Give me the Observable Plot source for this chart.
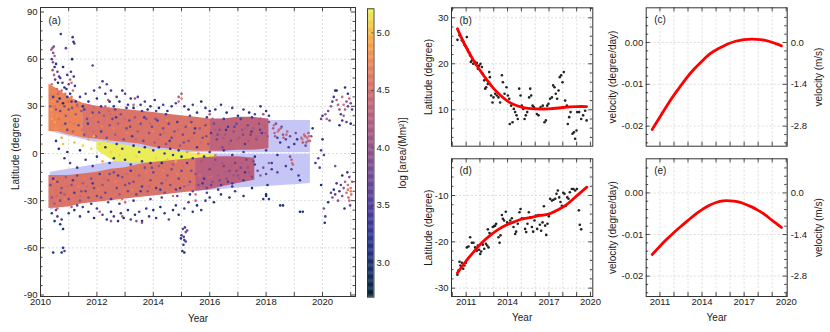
<!DOCTYPE html>
<html><head><meta charset="utf-8">
<script src="https://cdn.jsdelivr.net/npm/d3@7"></script>
<script src="https://cdn.jsdelivr.net/npm/@observablehq/plot@0.6"></script>
<style>
html,body{margin:0;padding:0;background:#fff;}
#chart{position:relative;width:830px;height:332px;overflow:hidden;}
#chart svg{position:absolute;left:0;top:0;}
</style></head><body><div id="chart"></div>
<script>
// ---------- colour map (log area) ----------
const colorDomain = [2.7, 2.951, 3.202, 3.453, 3.704, 3.955, 4.206, 4.457, 4.708, 4.959, 5.21];
const colorRange = ["#042333", "#15306a", "#2c3494", "#4a3c9c", "#6b4795", "#8e518b", "#b05c83", "#d16b72", "#ec8258", "#f9ac44", "#e8f65a"];

// ---------- panel (a): butterfly diagram ----------
const bandNorth = [[2010.35,14,36],[2011,11,33],[2012,7,28.5],[2013,4,25.5],[2014,1.5,23.8],[2015,0.4,22.5],[2016,0.4,21.6],[2017,0.4,21.2],[2018,0.4,21],[2019,0.4,21],[2019.57,0.4,21]];
const bandSouth = [[2010.35,-36,-12],[2011,-33,-10],[2012,-30,-7],[2013,-28,-4],[2014,-26.3,-2],[2015,-25,-0.6],[2016,-23.5,-0.4],[2017,-22,-0.4],[2018,-21,-0.4],[2019,-19.8,-0.4],[2019.57,-19,-0.4]];
const northCore = [[2010.3,14,44,4.72],[2010.6,14,41,4.72],[2011.0,12,36,4.72],[2011.5,10,32,4.72],
  [2011.5,10,32,4.55],[2012,9,30,4.55],[2012.5,8,29,4.55],[2013,7,28,4.55],[2013.5,6,27,4.55],[2014,4,26,4.55],[2014.5,3,25,4.55],[2015,2,24,4.55],[2015.5,1.5,23,4.55],[2016,1.5,22,4.55],
  [2016,1.5,22,4.32],[2016.5,1.5,22,4.32],[2017,2,23,4.32],[2017.5,2,23,4.32],[2018.1,3,22,4.32]];
const southCore = [[2010.3,-35,-14,4.55],[2011,-34,-14,4.55],[2011.5,-32,-13,4.55],[2012,-31,-12,4.55],[2012.5,-30,-10,4.55],[2013,-29,-9,4.55],[2013.5,-28,-7,4.55],[2014,-27,-5,4.55],[2014.5,-26,-4,4.55],[2015,-25,-3,4.55],[2015.5,-24,-2.5,4.55],
  [2015.5,-24,-2.5,4.28],[2016,-23,-2,4.28],[2016.5,-21,-2,4.28],[2017,-19,-2,4.28],[2017.6,-17,-3,4.28]];
const yellowCore = [[2012.0,2,8,5.18],[2012.6,-5,6,5.18],[2013.2,-6,5,5.18],[2013.8,-6,3,5.18],[2014.4,-5,2,5.18],[2015.0,-4,1,5.18],[2015.6,-3,0,5.18],[2016.2,-2,0,5.18]];

const aHighLat = [[2010.42,67,4.1],[2010.45,64,4.0],[2010.47,68,3.8],[2010.5,62,4.2],[2010.4,60,3.4],[2010.55,57,3.2],[2010.6,52,3.6],[2010.43,53,4.0],[2010.48,50,4.2],[2010.52,47,3.5],[2010.62,45,3.0],[2010.7,48,3.4],[2010.72,76,3.2],[2010.8,55,3.0],[2010.85,42,3.1],[2010.9,67,3.6],[2010.95,50,3.3],[2011.0,44,3.7],[2011.05,47,4.3],[2011.1,45,4.4],[2011.14,74,3.3],[2011.17,71,3.1],[2011.2,70,3.5],[2011.12,60,3.0],[2011.18,49,3.2],[2011.22,43,3.4],[2010.58,41,4.5],[2010.65,39,4.6],[2010.75,40,4.4],[2010.88,38,4.5],[2010.4,44,4.5],[2010.36,37,4.6],[2010.42,33,4.8],[2010.38,28,4.9],[2010.4,22,4.9],[2010.45,18,4.7],[2010.55,16,4.8],[2010.68,35,3.0],[2010.8,32,3.0],[2010.95,36,3.2],[2011.05,38,3.0],[2011.25,33,3.2],[2010.38,66,4.2],[2010.44,58,3.9],[2010.5,55,3.1],[2010.66,49,3.3],[2010.78,45,3.5],[2010.92,41,3.2],[2011.08,52,3.4],[2011.15,40,4.5],[2011.1,36,4.6]];
const aNorthOuter = [[2011.4,36,3.3],[2011.5,30,3.0],[2011.6,38,3.5],[2011.7,33,3.2],[2011.85,56,3.6],[2011.9,40,3.4],[2012.0,35,3.1],[2012.1,42,3.5],[2012.2,46,3.3],[2012.3,38,3.2],[2012.35,44,3.6],[2012.45,33,3.0],[2012.5,40,3.4],[2012.6,30,3.1],[2012.7,36,3.5],[2012.8,33,3.0],[2012.9,40,3.2],[2013.0,38,3.6],[2013.1,31,3.3],[2013.2,35,3.1],[2013.3,29,3.0],[2013.45,36,3.4],[2013.55,31,3.2],[2013.7,33,3.5],[2013.8,28,3.0],[2013.9,30,3.3],[2014.05,34,3.2],[2014.2,29,3.0],[2014.35,31,3.4],[2014.5,27,3.1],[2014.65,30,3.3],[2014.8,32,3.5],[2014.9,36,4.2],[2015.0,38,4.1],[2015.1,30,3.2],[2015.25,28,3.0],[2015.4,31,3.4],[2015.55,26,3.1],[2015.7,33,3.0],[2015.85,29,3.3],[2016.0,27,3.2],[2016.2,28,3.1],[2016.4,31,3.3],[2016.6,26,3.0],[2016.8,29,3.4],[2017.0,24,3.1],[2017.2,28,3.3],[2017.4,26,3.0],[2017.6,25,3.5],[2017.8,30,3.2],[2018.0,27,3.1],[2018.1,24,3.3],
  [2012.3,30,4.4],[2012.4,34,4.2],[2012.42,27,4.3],[2013.3,31,4.3],[2013.35,35,4.1],[2014.9,33,4.4],[2015.0,35,4.6],[2016.1,22,4.3],[2016.0,25,4.2],[2017.8,22,4.2],[2017.9,25,4.0],[2011.3,31,4.2],[2011.9,29,4.4],
  [2011.55,28,3.4],[2012.15,30,3.2],[2012.65,28,3.6],[2013.05,29,3.3],[2013.6,27,3.4],[2014.1,27,3.6],[2014.45,25,3.3],[2015.3,24,3.5],[2015.9,23,3.4],[2016.5,22,3.3],[2017.1,22,3.5],[2017.5,23,3.3]];
const aSouthOuter = [[2010.4,-38,3.2],[2010.5,-43,3.0],[2010.6,-40,3.4],[2010.7,-45,3.1],[2010.8,-48,3.0],[2010.75,-42,3.3],[2010.55,-36,3.6],[2010.45,-63,3.0],[2010.8,-60,3.2],[2010.85,-62,3.4],[2010.75,-63,3.0],[2011.0,-38,3.3],[2011.2,-36,3.0],[2011.4,-40,3.2],[2011.5,-34,3.4],[2011.7,-37,3.1],[2011.9,-41,3.0],[2012.0,-35,3.3],[2012.2,-39,3.5],[2012.35,-42,3.2],[2012.5,-37,3.0],[2012.6,-40,3.4],[2012.75,-43,3.1],[2012.85,-38,3.3],[2012.95,-41,3.0],[2013.1,-36,3.2],[2013.2,-42,3.4],[2013.35,-39,3.1],[2013.5,-37,3.5],[2013.6,-43,3.0],[2013.75,-35,3.2],[2013.85,-40,3.4],[2014.0,-36,3.1],[2014.1,-41,3.3],[2014.25,-34,3.0],[2014.4,-38,3.2],[2014.55,-42,3.5],[2014.7,-36,3.1],[2014.8,-33,3.3],[2014.9,-39,3.0],[2015.1,-35,3.2],[2015.25,-31,3.4],[2015.4,-37,3.1],[2015.55,-33,3.0],[2015.7,-36,3.2],[2015.85,-30,3.3],[2016.0,-28,3.1],[2016.15,-31,3.0],[2016.4,-26,3.2],[2016.7,-28,3.0],[2016.9,-24,3.3],[2017.2,-27,3.1],[2017.5,-22,3.0],[2017.9,-29,3.2],[2018.0,-27,3.0],[2018.5,-33,3.1],[2019.2,-37,3.0],
  [2012.5,-43,4.0],[2012.9,-40,4.2],[2013.4,-43,3.9],[2013.6,-44,4.1],[2015.5,-30,4.3],[2012.1,-37,4.3],[2010.6,-35,4.4],[2011.1,-34,4.2],
  [2011.3,-33,3.5],[2011.8,-32,3.3],[2012.4,-31,3.6],[2012.8,-32,3.4],[2013.3,-30,3.3],[2013.9,-29,3.5],[2014.3,-28,3.4],[2014.85,-27,3.6],[2015.3,-26,3.3],[2015.9,-25,3.5],[2016.3,-23,3.4],[2016.8,-21,3.3]];
const aSouthSpot = [[2015.0,-52,3.4],[2015.05,-48,3.6],[2015.1,-55,3.3],[2015.15,-50,3.8],[2015.08,-53,3.5],[2014.98,-54,3.2],[2015.12,-47,3.5],[2015.2,-49,3.7],[2015.03,-62,3.1],[2015.1,-63,3.0],[2015.07,-58,3.2],[2015.15,-56,3.4]];
const aNorthMass = [[2010.35,30,4.1],[2010.4,25,4.8],[2010.45,36,3.4],[2010.5,20,4.9],[2010.55,28,3.9],[2010.6,33,3.8],[2010.65,22,4.5],[2010.7,27,3.7],[2010.78,18,4.6],[2010.85,30,3.9],[2010.9,24,4.0],[2010.95,15,3.7],[2011.0,28,3.8],[2011.05,20,4.6],[2011.1,33,3.4],[2011.15,14,4.2],[2011.25,25,4.1],[2011.35,18,3.8],[2011.45,27,4.0],[2011.55,12,3.9],[2011.65,22,3.8],[2011.75,16,4.5],[2011.85,26,3.7],[2011.95,11,3.7],[2012.05,20,4.0],[2012.15,14,3.4],[2012.25,24,4.1],[2012.35,10,3.8],[2012.45,18,3.9],[2012.55,22,3.7],[2012.65,12,4.1],[2012.75,19,4.1],[2012.85,25,3.9],[2012.95,9,3.8],[2013.05,16,3.7],[2013.15,21,3.7],[2013.25,11,3.4],[2013.35,23,4.0],[2013.45,14,4.1],[2013.55,19,3.8],[2013.65,8,3.7],[2013.75,22,3.9],[2013.85,13,3.9],[2013.95,17,3.7],[2014.05,7,4.1],[2014.15,21,3.4],[2014.25,12,3.8],[2014.35,16,3.8],[2014.45,6,3.9],[2014.55,19,3.7],[2014.65,10,3.7],[2014.75,14,3.9],[2014.85,20,3.4],[2014.95,5,4.1],[2015.05,12,3.8],[2015.15,17,3.8],[2015.25,8,3.9],[2015.35,20,3.7],[2015.45,13,3.7],[2015.55,4,3.4],[2015.65,16,4.1],[2015.75,10,3.8],[2015.85,18,3.8],[2015.95,6,3.9],[2016.05,13,3.4],[2016.15,19,3.7],[2016.25,9,3.7],[2016.35,15,3.9],[2016.45,4,3.8],[2016.55,12,4.1],[2016.65,17,3.4],[2016.75,8,3.8],[2016.85,14,3.9],[2016.95,19,3.7],[2017.05,10,4.1],[2017.15,15,4.0],[2017.25,6,3.4],[2017.35,18,3.7],[2017.45,12,3.7],[2017.55,16,4.1],[2017.65,9,3.9],[2017.75,19,3.8],[2017.85,13,3.4],[2017.95,17,4.2],[2018.05,11,4.1],[2018.1,20,3.9]];
const aNorthMass2 = [[2010.38,35,4.6],[2010.42,20,4.7],[2010.5,30,4.5],[2010.58,24,4.8],[2010.62,38,4.3],[2010.72,31,4.6],[2010.82,25,4.7],[2010.88,19,3.6],[2010.98,33,4.5],[2011.02,23,4.7],[2011.12,29,3.8],[2011.2,19,4.6],[2011.3,30,4.4],[2011.38,22,4.7],[2011.48,15,4.5],[2011.58,26,4.6],[2011.68,19,3.4],[2011.78,24,4.7],[2011.88,14,4.4],[2011.98,22,4.6],[2012.08,26,3.8],[2012.18,17,4.7],[2012.28,21,4.5],[2012.38,13,4.6],[2012.48,25,4.4],[2012.58,16,4.7],[2012.68,23,3.4],[2012.78,11,4.5],[2012.88,18,4.6],[2012.98,22,4.4],[2013.08,13,4.7],[2013.18,17,3.8],[2013.28,24,4.6],[2013.38,9,4.4],[2013.48,20,4.7],[2013.58,15,4.5],[2013.68,23,3.4],[2013.78,10,4.6],[2013.88,19,4.4],[2013.98,14,4.7],[2014.08,22,3.8],[2014.18,9,4.5],[2014.28,18,4.6],[2014.38,13,4.4],[2014.48,21,4.7],[2014.58,8,3.4],[2014.68,17,4.6],[2014.78,11,4.5],[2014.88,15,4.4],[2014.98,19,4.6],[2015.08,7,3.8],[2015.18,14,4.5],[2015.28,18,4.7],[2015.38,10,4.4],[2015.48,16,3.4],[2015.58,20,4.6],[2015.68,7,4.4],[2015.78,14,4.5],[2015.88,11,3.8],[2015.98,17,4.6],[2016.08,8,4.3],[2016.18,15,4.2],[2016.28,12,3.8],[2016.38,18,4.3],[2016.48,10,4.1],[2016.58,15,3.4],[2016.68,6,4.2],[2016.78,12,4.3],[2016.88,17,3.6],[2016.98,9,4.2],[2017.08,18,4.3],[2017.18,12,3.8],[2017.28,16,4.2],[2017.38,8,4.1],[2017.48,14,3.4],[2017.58,19,4.3],[2017.68,11,4.2],[2017.78,15,3.6],[2017.88,8,4.3],[2017.98,13,4.1]];
const aSouthMass = [[2010.35,-20,3.7],[2010.4,-28,4.0],[2010.45,-16,3.4],[2010.5,-32,4.1],[2010.55,-24,4.5],[2010.6,-18,3.7],[2010.7,-30,3.8],[2010.75,-22,3.9],[2010.85,-26,4.2],[2010.9,-15,4.1],[2011.0,-29,3.7],[2011.1,-20,3.9],[2011.2,-25,3.4],[2011.3,-14,3.7],[2011.4,-30,3.9],[2011.5,-19,4.1],[2011.6,-24,3.7],[2011.7,-28,3.8],[2011.8,-16,3.9],[2011.9,-22,3.8],[2012.0,-27,3.7],[2012.1,-13,3.4],[2012.2,-20,4.0],[2012.3,-25,3.7],[2012.4,-17,4.1],[2012.5,-29,3.4],[2012.6,-12,3.8],[2012.7,-22,3.7],[2012.8,-26,4.1],[2012.9,-15,3.9],[2013.0,-20,3.8],[2013.1,-24,3.7],[2013.2,-11,3.4],[2013.3,-18,3.8],[2013.4,-26,3.7],[2013.5,-14,4.1],[2013.6,-21,3.4],[2013.7,-9,3.8],[2013.8,-24,3.9],[2013.9,-17,3.8],[2014.0,-12,3.7],[2014.1,-22,3.4],[2014.2,-8,4.1],[2014.3,-19,3.7],[2014.4,-25,3.8],[2014.5,-14,3.9],[2014.6,-20,3.8],[2014.7,-7,4.1],[2014.8,-23,3.4],[2014.9,-16,3.7],[2015.0,-11,3.7],[2015.1,-21,4.1],[2015.2,-6,3.4],[2015.3,-18,3.8],[2015.4,-24,3.7],[2015.5,-13,3.9],[2015.6,-20,3.8],[2015.7,-5,4.1],[2015.8,-16,3.4],[2015.9,-22,3.7],[2016.0,-10,3.7],[2016.1,-18,3.9],[2016.2,-4,3.8],[2016.3,-14,4.1],[2016.4,-20,3.4],[2016.5,-8,3.7],[2016.6,-16,3.9],[2016.7,-11,3.8],[2016.8,-19,3.4],[2016.9,-6,3.7],[2017.0,-14,3.9],[2017.1,-9,3.8],[2017.2,-17,3.4],[2017.3,-4,3.7],[2017.4,-12,4.1],[2017.5,-15,3.8],[2017.6,-7,3.4],[2017.7,-11,3.8],[2017.8,-14,4.1],[2017.9,-9,3.9],[2018.0,-13,3.7],[2018.1,-6,4.1],[2018.2,-10,3.4],
  [2010.4,-25,4.6],[2010.45,-30,4.5],[2011.4,-27,4.4],[2012.9,-29,4.5],[2013.0,-31,4.4],[2014.7,-27,4.5],[2014.75,-24,4.6],[2015.5,-26,4.5],[2015.7,-22,4.4],[2016.0,-18,4.3],[2016.05,-15,4.4]];
const aSouthMass2 = [[2010.38,-22,4.6],[2010.42,-31,4.5],[2010.48,-18,4.7],[2010.58,-27,4.4],[2010.65,-20,4.6],[2010.72,-25,3.8],[2010.8,-17,4.5],[2010.88,-29,4.7],[2010.95,-21,4.4],[2011.05,-25,4.6],[2011.15,-17,3.4],[2011.25,-28,4.5],[2011.35,-21,4.7],[2011.45,-24,3.8],[2011.55,-16,4.6],[2011.65,-21,4.4],[2011.75,-26,4.6],[2011.85,-19,3.4],[2011.95,-15,4.5],[2012.05,-23,4.7],[2012.15,-28,3.8],[2012.25,-16,4.4],[2012.35,-21,4.6],[2012.45,-13,3.8],[2012.55,-24,4.5],[2012.65,-18,4.7],[2012.75,-14,3.4],[2012.85,-21,4.5],[2012.95,-24,4.6],[2013.05,-13,4.4],[2013.15,-19,3.8],[2013.25,-23,4.7],[2013.35,-11,4.5],[2013.45,-20,4.6],[2013.55,-24,3.4],[2013.65,-16,4.5],[2013.75,-12,4.7],[2013.85,-21,4.4],[2013.95,-9,3.8],[2014.05,-19,4.6],[2014.15,-14,4.5],[2014.25,-23,3.4],[2014.35,-11,4.7],[2014.45,-17,4.4],[2014.55,-21,4.6],[2014.65,-10,3.8],[2014.75,-18,4.5],[2014.85,-13,4.7],[2014.95,-22,3.4],[2015.05,-8,4.5],[2015.15,-16,4.6],[2015.25,-20,4.4],[2015.35,-11,3.8],[2015.45,-18,4.6],[2015.55,-7,4.3],[2015.65,-14,4.5],[2015.75,-19,3.4],[2015.85,-10,4.3],[2015.95,-15,4.4],[2016.05,-20,3.6],[2016.15,-7,4.2],[2016.25,-12,4.3],[2016.35,-17,3.8],[2016.45,-6,4.1],[2016.55,-12,4.2],[2016.65,-18,3.4],[2016.75,-8,4.2],[2016.85,-14,4.0],[2016.95,-11,3.8],[2017.05,-16,4.1],[2017.15,-6,4.2],[2017.25,-12,3.4],[2017.35,-9,4.0],[2017.45,-14,4.2],[2017.55,-5,3.8]];
const aEquator = [[2010.55,8,3.2],[2010.65,3,3.0],[2010.75,10,4.9],[2010.8,6,5.0],[2010.85,-3,3.3],[2010.95,1,3.1],[2011.05,-6,3.5],[2011.2,7,5.0],[2011.3,-9,3.2],[2011.4,2,3.0],[2011.5,5,5.1],[2011.6,-4,3.4],[2011.7,9,4.9],[2011.8,3,5.1],[2011.85,-8,3.3],[2011.9,11,5.0],[2012.0,-2,3.2],[2012.1,6,5.1],[2012.2,-5,4.9],[2012.3,4,3.1],[2012.4,8,5.0],[2012.45,-6,3.3],[2012.5,1,5.1],[2012.6,-3,3.0],[2012.7,6,3.2],[2012.8,-1,5.1],[2012.9,3,3.4],[2013.0,-4,3.1],[2013.1,2,5.2],[2013.2,-7,3.3],[2013.3,5,3.0],[2013.4,-2,5.1],[2013.5,1,3.2],[2013.6,-5,3.4],[2013.7,4,3.1],[2013.8,-1,5.2],[2013.9,-6,3.0],[2014.0,2,3.3],[2014.1,-3,5.1],[2014.2,4,3.2],[2014.3,-6,3.0],[2014.4,0,3.4],[2014.5,-4,5.0],[2014.6,3,3.1],[2014.7,-1,3.3],[2014.8,-5,4.9],[2014.9,2,3.2],[2015.0,-2,3.0],[2015.2,1,4.8],[2015.4,-3,3.3],[2015.6,0,4.7],[2015.8,-2,3.2],[2016.0,1,3.4],[2016.2,-1,4.6],[2016.5,2,3.3],[2016.8,-1,3.2],[2017.2,1,3.3],[2017.6,-2,3.1],[2018.0,2,3.4],[2018.4,-1,3.2]];
const aLate = [[2018.25,16,4.2],[2018.3,13,4.3],[2018.35,19,3.9],[2018.4,10,3.5],[2018.45,15,4.4],[2018.5,7,3.3],[2018.55,17,3.7],[2018.6,12,4.1],[2018.7,9,3.6],[2018.75,14,4.3],[2018.8,4,3.4],[2018.85,11,3.8],[2018.9,-4,4.2],[2018.95,-7,4.3],[2018.85,-2,4.0],[2018.9,-10,3.5],[2019.0,6,3.2],[2019.05,13,3.9],[2019.1,9,3.3],[2019.15,-14,3.4],[2019.2,-17,3.2],[2019.25,10,4.3],[2019.3,7,4.1],[2019.35,12,4.4],[2019.4,5,3.7],[2019.45,10,4.5],[2019.5,13,4.2],[2019.55,8,4.4],[2019.6,11,3.8],[2019.3,-37,3.1],[2019.65,16,3.2],[2019.75,-6,3.3],[2019.85,-3,3.6],[2019.9,-9,3.5],[2019.95,2,3.4],[2019.95,-20,3.0],[2020.0,9,3.2],[2020.05,-1,3.5],[2018.6,-33,3.0],[2018.2,-6,3.3],[2018.4,-12,3.6],[2018.7,-8,3.4],[2018.05,-20,3.1],[2018.0,-26,3.0],[2018.1,-29,3.2],
  [2018.28,18,4.4],[2018.32,11,4.2],[2018.42,14,4.5],[2018.52,16,4.3],[2018.62,10,4.2],[2018.72,12,4.4],[2018.92,-6,4.5],[2019.28,9,4.5],[2019.38,11,4.3],[2019.48,8,4.4],[2019.52,11,4.6],[2019.42,7,4.2]];
const aCycle25N = [[2020.1,25,4.0],[2020.15,22,4.3],[2020.2,27,3.8],[2020.3,30,4.1],[2020.35,33,3.5],[2020.4,36,3.3],[2020.45,40,3.2],[2020.5,34,4.2],[2020.55,31,4.3],[2020.6,28,3.9],[2020.65,25,3.5],[2020.7,21,3.3],[2020.7,36,4.4],[2020.75,31,4.5],[2020.8,28,4.2],[2020.85,33,4.0],[2020.9,30,3.6],[2020.9,38,3.2],[2020.8,42,3.1],[2020.95,35,4.3],[2021.0,32,3.8],[2021.05,28,3.4],[2020.6,18,3.1],[2020.25,21,3.6],[2020.0,24,3.2],[2019.95,22,3.7],[2020.75,24,4.1],[2020.85,20,3.5],[2021.0,19,3.0],[2020.5,40,3.0]];
const aCycle25S = [[2020.05,-35,3.9],[2020.1,-40,3.4],[2020.08,-44,3.0],[2020.3,-25,3.5],[2020.35,-28,3.8],[2020.4,-23,3.2],[2020.45,-26,3.6],[2020.55,-30,3.9],[2020.6,-24,3.3],[2020.65,-20,3.6],[2020.7,-27,3.9],[2020.75,-22,4.0],[2020.8,-18,4.2],[2020.85,-25,4.4],[2020.9,-20,4.5],[2020.92,-28,4.3],[2020.95,-15,3.8],[2021.0,-22,4.6],[2021.02,-26,4.5],[2021.05,-18,4.2],[2020.98,-33,3.7],[2020.88,-12,3.3],[2020.78,-35,3.1],[2020.7,-14,3.0],[2020.5,-19,3.4],[2020.2,-31,3.0],[2020.95,-30,4.4],[2021.0,-24,4.7],[2020.9,-23,4.6],[2020.45,-8,3.9]];

// ---------- panels (b)/(d): mean latitude per rotation + fit ----------
const bYears = [2010.37,2010.52,2010.62,2010.69,2010.81,2010.88,2010.98,2011.05,2011.12,2011.22,2011.29,2011.34,2011.41,2011.51,2011.61,2011.70,2011.78,2011.85,2011.94,2012.04,2012.14,2012.21,2012.31,2012.38,2012.45,2012.57,2012.67,2012.72,2012.81,2012.91,2012.98,2013.10,2013.22,2013.34,2013.46,2013.59,2013.66,2013.78,2013.92,2014.02,2014.12,2014.16,2014.26,2014.36,2014.45,2014.55,2014.65,2014.74,2014.84,2014.94,2015.03,2015.13,2015.23,2015.32,2015.42,2015.56,2015.64,2015.71,2015.81,2015.90,2016.00,2016.12,2016.24,2016.39,2016.55,2016.67,2016.77,2016.87,2016.96,2017.08,2017.21,2017.30,2017.40,2017.49,2017.59,2017.69,2017.78,2017.88,2017.98,2018.07,2018.17,2018.29,2018.36,2018.46,2018.56,2018.70,2018.80,2018.89,2018.99,2019.04,2019.18,2019.33,2019.47,2019.62,2019.72];
const bLats = [25.2,26.2,25.8,25.1,24.7,24.1,23.8,25.8,23.1,22.5,21.8,20.4,20.7,20.0,20.5,19.8,20.2,18.9,19.6,20.0,19.3,17.8,16.4,14.6,14.9,15.6,18.2,17.1,13.1,11.6,12.7,13.5,13.1,12.7,11.6,17.5,16.0,13.5,14.9,13.1,12.4,6.9,10.9,7.3,10.2,9.5,8.8,8.0,14.6,13.1,10.9,10.2,8.0,8.8,9.5,12.7,14.6,13.1,10.9,10.6,10.2,9.1,8.8,10.6,10.9,7.3,7.7,10.9,11.3,12.4,12.7,15.3,14.9,13.5,12.4,14.2,17.1,17.5,16.0,18.2,12.0,10.9,6.9,8.4,9.5,4.8,5.1,3.7,5.5,9.5,9.5,8.0,8.8,9.8,7.7];
const bFitYears = [2010.37,2010.7,2011.0,2011.5,2012.0,2012.5,2013.0,2013.5,2014.0,2014.5,2015.0,2015.5,2016.0,2017.0,2018.0,2019.0,2019.72];
const bFitLats = [27.6,25.4,23.6,20.9,18.6,16.5,14.6,13.1,11.9,11.1,10.6,10.3,10.2,10.2,10.5,10.7,10.7];

const dYears = [2010.37,2010.45,2010.52,2010.59,2010.69,2010.79,2010.88,2010.98,2011.05,2011.17,2011.29,2011.41,2011.53,2011.65,2011.77,2011.85,2011.94,2012.02,2012.09,2012.21,2012.31,2012.43,2012.52,2012.62,2012.57,2012.69,2012.81,2012.93,2013.03,2013.10,2013.17,2013.34,2013.42,2013.49,2013.59,2013.66,2013.75,2013.87,2013.97,2014.07,2014.19,2014.31,2014.43,2014.55,2014.62,2014.74,2014.86,2014.94,2015.03,2015.15,2015.27,2015.35,2015.44,2015.54,2015.64,2015.76,2015.85,2015.95,2016.05,2016.14,2016.24,2016.34,2016.43,2016.53,2016.63,2016.72,2016.80,2016.89,2016.99,2017.08,2017.21,2017.33,2017.45,2017.54,2017.64,2017.74,2017.83,2017.93,2018.03,2018.12,2018.22,2018.32,2018.41,2018.51,2018.65,2018.77,2018.89,2019.02,2019.16,2019.23,2019.33];
const dLats = [-27.1,-26.2,-24.3,-25.1,-24.5,-25.8,-25.1,-24.5,-21.2,-21.0,-19.0,-20.2,-20.2,-21.2,-21.9,-20.8,-21.7,-22.6,-22.1,-20.6,-21.5,-20.4,-20.8,-21.2,-17.3,-18.1,-18.3,-16.8,-16.6,-16.5,-16.1,-19.0,-20.2,-18.6,-14.2,-15.0,-15.4,-13.5,-15.8,-16.1,-15.4,-14.9,-16.8,-18.3,-17.8,-16.1,-13.6,-12.9,-14.9,-15.0,-17.2,-17.9,-16.1,-13.6,-14.7,-16.8,-17.8,-15.4,-14.3,-17.2,-14.2,-16.3,-17.6,-15.8,-12.3,-16.5,-18.5,-16.1,-14.5,-10.7,-11.1,-10.9,-10.7,-9.6,-8.9,-10.4,-11.4,-12.2,-9.4,-9.6,-12.2,-10.4,-10.7,-9.3,-8.6,-8.6,-8.9,-8.6,-13.2,-16.3,-17.3];
const dFitYears = [2010.37,2010.93,2011.53,2012.14,2012.74,2013.34,2013.95,2014.55,2015.15,2015.76,2016.36,2016.96,2017.57,2018.17,2018.77,2019.38,2019.74];
const dFitLats = [-26.7,-24.4,-22.2,-20.2,-18.6,-17.3,-16.3,-15.6,-15.0,-14.7,-14.3,-14.0,-13.2,-12.2,-10.7,-9.1,-8.2];

// ---------- panels (c)/(e): drift velocity ----------
const cYears = [2010.45,2011.04,2011.63,2012.23,2012.82,2013.42,2014.01,2014.60,2015.20,2015.79,2016.39,2016.98,2017.57,2018.17,2018.76,2019.36,2019.66];
const cVel = [-0.0208,-0.0176,-0.0144,-0.0115,-0.0088,-0.0064,-0.0044,-0.0026,-0.0014,-0.0004,0.0003,0.0007,0.0008,0.0007,0.0003,-0.0004,-0.0008];
const eYears = [2010.45,2011.0,2011.5,2012.0,2012.5,2013.0,2013.5,2014.0,2014.5,2015.0,2015.5,2016.0,2016.5,2017.0,2017.5,2018.0,2018.5,2019.0,2019.66];
const eVel = [-0.0148,-0.0128,-0.0111,-0.0095,-0.0080,-0.0066,-0.0052,-0.0040,-0.0030,-0.0023,-0.0019,-0.0019,-0.0021,-0.0026,-0.0033,-0.0042,-0.0053,-0.0066,-0.0083];

// ---------- tick labels ----------
const aXLabels = [2010, 2012, 2014, 2016, 2018, 2020];
const aYLabels = [90, 60, 30, 0, -30, -60, -90];
const cbLabels = [3.0, 3.5, 4.0, 4.5, 5.0];
const bYLabels = [10, 20, 30];
const dYLabels = [-10, -20, -30];
const rightXLabels = [2011, 2014, 2017, 2020];
const velTicks = [0, -0.01, -0.02];
const velLabelsLeft = ["0.00", "-0.01", "-0.02"];
const velLabelsRight = ["0.0", "-1.4", "-2.8"];

// ---------- helpers ----------
const FONT = "'Liberation Sans', Arial, Helvetica, sans-serif";
const INK = "#333";
const GRID = "#cfcfcf";
const TXT = "#1a1a1a";
const colorOpt = {type: "linear", domain: colorDomain, range: colorRange, clamp: true};
const styleOpt = {fontFamily: FONT, fontSize: "10px", background: "transparent", overflow: "visible", color: TXT};

function under(g) {
  const s = {stroke: GRID, strokeWidth: 0.7, strokeDasharray: "2,2"};
  return [Plot.ruleX(g.gridX, {x: d => d, ...s}), Plot.ruleY(g.gridY, {y: d => d, ...s})];
}
function over(g) {
  const s = {stroke: INK, strokeWidth: 0.9};
  const tx = (arr, len) => [
    Plot.tickX(arr, {x: d => d, insetTop: g.fh - len, ...s}),
    Plot.tickX(arr, {x: d => d, insetBottom: g.fh - len, ...s})];
  const ty = (arr, len) => [
    Plot.tickY(arr, {y: d => d, insetRight: g.fw - len, ...s}),
    Plot.tickY(arr, {y: d => d, insetLeft: g.fw - len, ...s})];
  return [...tx(g.xMajor, 4), ...tx(g.xMinor, 2.5), ...ty(g.yMajor, 4), ...ty(g.yMinor, 2.5),
    Plot.frame({stroke: INK, strokeWidth: 1})];
}
const xLab = (vals, fmt) => Plot.text(vals, {x: d => d, frameAnchor: "bottom", dy: 8.5, textAnchor: "middle", text: fmt || (d => String(d)), fontSize: 9.5, fill: TXT});
const yLab = (vals, fmt) => Plot.text(vals, {y: d => d, frameAnchor: "left", dx: -3, textAnchor: "end", text: fmt || (d => String(d)), fontSize: 9.5, fill: TXT});
const title = (s, opts) => Plot.text([s], {text: d => d, fontSize: 10, fill: TXT, textAnchor: "middle", lineAnchor: "middle", ...opts});
const tag = (s, dx, dy) => Plot.text([s], {text: d => d, frameAnchor: "top-left", dx, dy, textAnchor: "start", lineAnchor: "middle", fontSize: 10, fill: TXT});

const chart = document.getElementById("chart");
function add(opts) {
  const svg = Plot.plot({width: 830, height: 332, style: styleOpt, ...opts});
  chart.appendChild(svg);
}

// ---------- panel (a) ----------
const ptsA = [...aNorthMass2, ...aSouthMass2, ...aNorthMass, ...aSouthMass, ...aEquator, ...aHighLat, ...aNorthOuter, ...aSouthOuter, ...aSouthSpot, ...aLate, ...aCycle25N, ...aCycle25S];
const gA = {fw: 315, fh: 289, gridX: d3.range(2011, 2022), gridY: [-60, -30, 0, 30, 60],
  xMajor: d3.range(2010, 2022), xMinor: [], yMajor: d3.range(-90, 91, 30), yMinor: d3.range(-84, 90, 6).filter(v => v % 30 !== 0)};
add({
  marginLeft: 40, marginRight: 475, marginTop: 7, marginBottom: 36,
  x: {domain: [2010, 2021.17], axis: null}, y: {domain: [-90.95, 92.86], axis: null},
  color: colorOpt,
  marks: [
    ...under(gA),
    Plot.areaY(bandNorth, {x: d => d[0], y1: d => d[1], y2: d => d[2], fill: "#c6c6f6"}),
    Plot.areaY(bandSouth, {x: d => d[0], y1: d => d[1], y2: d => d[2], fill: "#c6c6f6"}),
    Plot.areaY(northCore, {x: d => d[0], y1: d => d[1], y2: d => d[2], fill: d => d[3]}),
    Plot.areaY(southCore, {x: d => d[0], y1: d => d[1], y2: d => d[2], fill: d => d[3]}),
    Plot.areaY(yellowCore, {x: d => d[0], y1: d => d[1], y2: d => d[2], fill: d => d[3]}),
    Plot.dot(ptsA, {x: d => d[0], y: d => d[1], fill: d => d[2], r: 1.3, stroke: null}),
    ...over(gA),
    xLab(aXLabels), yLab(aYLabels),
    title("Year", {frameAnchor: "bottom", dy: 22}),
    title("Latitude (degree)", {frameAnchor: "left", dx: -25, rotate: -90}),
    tag("(a)", 8, 13)
  ]
});

// ---------- colour bar ----------
const cbValues = d3.range(2.7, 5.21, 0.01);
add({
  marginLeft: 367, marginRight: 456.5, marginTop: 8.3, marginBottom: 35.3,
  y: {domain: [2.7, 5.21], axis: null}, color: colorOpt,
  marks: [
    Plot.rect(cbValues, {y1: d => d, y2: d => d + 0.012, fill: d => d}),
    Plot.tickY(cbLabels, {y: d => d, insetLeft: 4.5, stroke: INK, strokeWidth: 0.8}),
    Plot.frame({stroke: INK, strokeWidth: 0.9}),
    Plot.text(cbLabels, {y: d => d, frameAnchor: "right", dx: 2.5, textAnchor: "start", text: d => d.toFixed(1), fontSize: 9.5, fill: TXT}),
    title("log [area/(Mm²)]", {frameAnchor: "right", dx: 28.5, rotate: -90})
  ]
});

// ---------- panel (b) ----------
const gB = {fw: 141.3, fh: 138.4, gridX: d3.range(2011, 2021), gridY: [10, 20, 30],
  xMajor: d3.range(2010, 2021), xMinor: [], yMajor: [10, 20, 30], yMinor: d3.range(4, 33, 2).filter(v => v % 10 !== 0)};
add({
  marginLeft: 451, marginRight: 237.7, marginTop: 7.3, marginBottom: 186.3,
  x: {domain: [2009.94, 2020.17], axis: null}, y: {domain: [2.09, 32.17], axis: null},
  marks: [
    ...under(gB),
    Plot.dot(bYears, {x: d => d, y: (d, i) => bLats[i], r: 1.3, fill: "#222", stroke: null}),
    Plot.line(bFitYears, {x: d => d, y: (d, i) => bFitLats[i], stroke: "#ff0000", strokeWidth: 2.8, curve: "natural"}),
    ...over(gB),
    yLab(bYLabels),
    title("Latitude (degree)", {frameAnchor: "left", dx: -23, rotate: -90}),
    tag("(b)", 8, 12.7)
  ]
});

// ---------- panel (d) ----------
const gD = {fw: 141.3, fh: 137.7, gridX: d3.range(2011, 2021), gridY: [-10, -20, -30],
  xMajor: d3.range(2010, 2021), xMinor: [], yMajor: [-10, -20, -30], yMinor: d3.range(-30, -2, 2).filter(v => v % 10 !== 0)};
add({
  marginLeft: 451, marginRight: 237.7, marginTop: 158.3, marginBottom: 36,
  x: {domain: [2009.94, 2020.17], axis: null}, y: {domain: [-31.8, -2.07], axis: null},
  marks: [
    ...under(gD),
    Plot.dot(dYears, {x: d => d, y: (d, i) => dLats[i], r: 1.3, fill: "#222", stroke: null}),
    Plot.line(dFitYears, {x: d => d, y: (d, i) => dFitLats[i], stroke: "#ff0000", strokeWidth: 2.8, curve: "natural"}),
    ...over(gD),
    xLab(rightXLabels), yLab(dYLabels),
    title("Year", {frameAnchor: "bottom", dy: 21}),
    title("Latitude (degree)", {frameAnchor: "left", dx: -23, rotate: -90}),
    tag("(d)", 8, 11.7)
  ]
});

// ---------- panels (c) and (e) ----------
function velPanel(top, bottom, yDomain, years, vel, label, withX) {
  const g = {fw: 141, fh: 332 - top - bottom, gridX: d3.range(2011, 2021), gridY: velTicks,
    xMajor: d3.range(2011, 2021), xMinor: [], yMajor: velTicks, yMinor: [0.006, 0.004, 0.002, -0.002, -0.004, -0.006, -0.008, -0.012, -0.014, -0.016, -0.018, -0.022, -0.024]};
  const marks = [
    ...under(g),
    Plot.line(years, {x: d => d, y: (d, i) => vel[i], stroke: "#ff0000", strokeWidth: 2.8, curve: "natural"}),
    ...over(g),
    yLab(velTicks, (d, i) => velLabelsLeft[i]),
    Plot.text(velTicks, {y: d => d, frameAnchor: "right", dx: 3.5, textAnchor: "start", text: (d, i) => velLabelsRight[i], fontSize: 9.5, fill: TXT}),
    title("velocity (degree/day)", {frameAnchor: "left", dx: -33, rotate: -90}),
    title("velocity (m/s)", {frameAnchor: "right", dx: 32, rotate: -90}),
    tag(label, 8, 12)
  ];
  if (withX) marks.push(xLab(rightXLabels), title("Year", {frameAnchor: "bottom", dy: 21}));
  add({
    marginLeft: 645.7, marginRight: 43.3, marginTop: top, marginBottom: bottom,
    x: {domain: [2010.02, 2020.07], axis: null}, y: {domain: yDomain, axis: null},
    marks
  });
}
velPanel(7.3, 186.3, [-0.0248, 0.0083], cYears, cVel, "(c)", false);
velPanel(158.3, 36, [-0.0249, 0.0082], eYears, eVel, "(e)", true);
</script></body></html>
